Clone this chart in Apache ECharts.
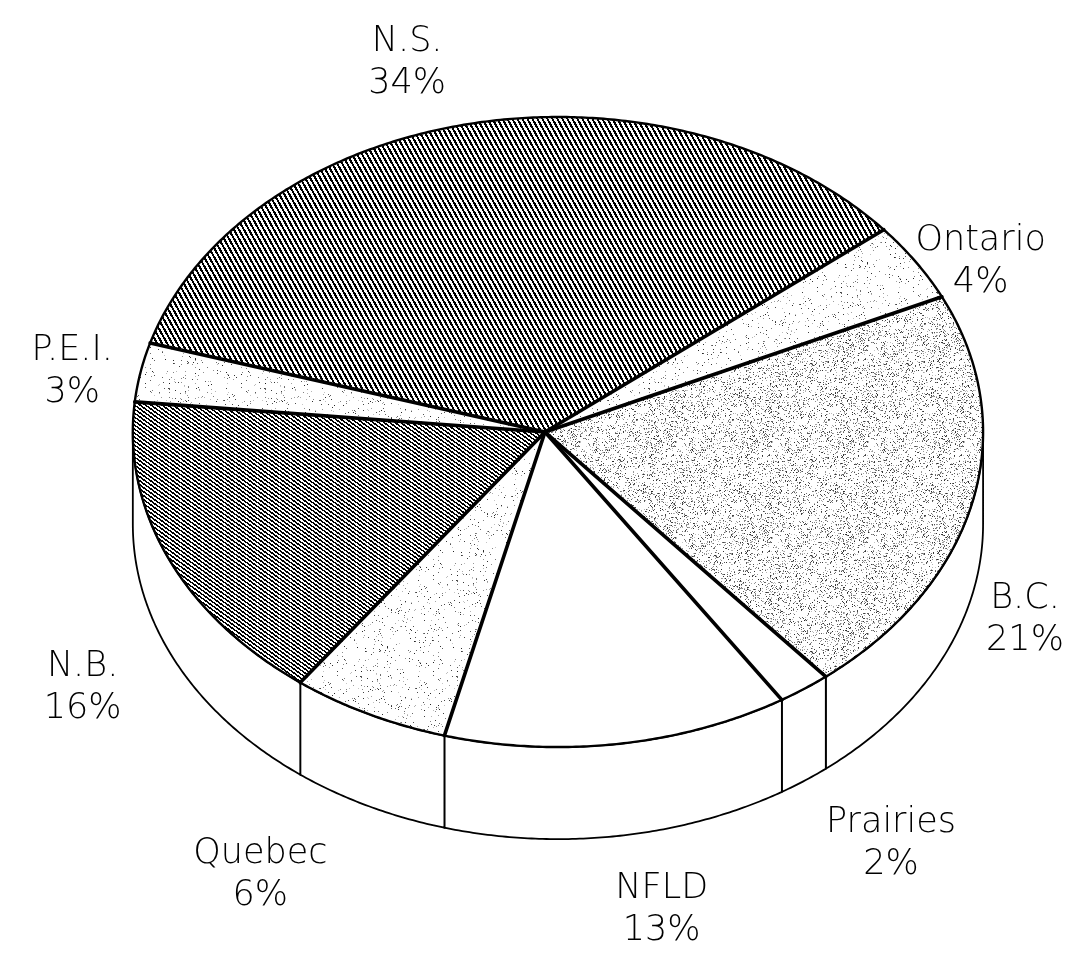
<!DOCTYPE html>
<html><head><meta charset="utf-8">
<script src="https://cdn.jsdelivr.net/npm/echarts@6/dist/echarts.min.js"></script>
<style>html,body{margin:0;padding:0;background:#fff}#chart{width:1079px;height:959px}</style>
</head><body><div id="chart"></div>
<script>
// ---- data ----
const categories = ['N.S.', 'Ontario', 'B.C.', 'Prairies', 'NFLD', 'Quebec', 'N.B.', 'P.E.I.'];
const shares = [34, 4, 21, 2, 13, 6, 16, 3];

// ---- textures ----
function hash(x, y, s) {
  let n = Math.imul(x, 374761393) + Math.imul(y, 668265263) + Math.imul(s, 2246822519);
  n = Math.imul(n ^ (n >>> 13), 1274126177);
  n = n ^ (n >>> 16);
  return (n >>> 0) / 4294967296;
}
function makePattern(w, h, fn) {
  const c = document.createElement('canvas');
  c.width = w; c.height = h;
  const ctx = c.getContext('2d');
  const img = ctx.createImageData(w, h);
  for (let y = 0; y < h; y++) for (let x = 0; x < w; x++) {
    const v = fn(x, y); const k = (y * w + x) * 4;
    img.data[k] = v; img.data[k + 1] = v; img.data[k + 2] = v; img.data[k + 3] = 255;
  }
  ctx.putImageData(img, 0, 0);
  return { image: c, repeat: 'repeat' };
}
const patterns = {
  hatchSteep: makePattern(5, 9, (x, y) => ((((x * 9 - y * 5) % 45) + 45) % 45) < 21 ? 0 : 255),
  hatchShallow: makePattern(11, 8, (x, y) => ((((x * 8 - y * 11) % 44) + 44) % 44) < 21 ? 0 : 255),
  speckleMedium: makePattern(96, 96, (x, y) => hash(x, y, 1) < 0.17 ? Math.round(40 + 160 * hash(x, y, 2)) : 255),
  speckleLight: makePattern(96, 96, (x, y) => hash(x, y, 3) < 0.04 ? Math.round(30 + 170 * hash(x, y, 4)) : 255)
};
const sliceFill = {
  'N.S.': patterns.hatchSteep,
  'Ontario': patterns.speckleLight,
  'B.C.': patterns.speckleMedium,
  'Prairies': '#ffffff',
  'NFLD': '#ffffff',
  'Quebec': patterns.speckleLight,
  'N.B.': patterns.hatchShallow,
  'P.E.I.': patterns.speckleLight
};

// ---- angles from data ----
const total = shares.reduce((a, b) => a + b, 0);
const startDeg = 196.4;
const starts = [], ends = [];
(function () { let acc = startDeg; shares.forEach(v => { starts.push(acc); acc += v / total * 360; ends.push(acc); }); })();

const LABEL_FONT = { size: 35, weight: 200, family: '"DejaVu Sans", sans-serif' };
const measureCtx = document.createElement('canvas').getContext('2d');
function blockWidth(lines) {
  measureCtx.font = LABEL_FONT.weight + ' ' + LABEL_FONT.size + 'px ' + LABEL_FONT.family;
  return Math.max.apply(null, lines.map(l => measureCtx.measureText(l).width));
}

function renderItem(params, api) {
  const i = params.dataIndex;
  const W = api.getWidth(), H = api.getHeight();
  const ax = W * 0.5051, ay = H * 0.4505;          // apex (pie centre on top face)
  const ex = ax + W * 0.012;                        // ellipse centre
  const rx = W * 0.394, ry = H * 0.3285, depth = H * 0.096;
  const pt = (deg, dy) => { const r = deg * Math.PI / 180; return [ex + rx * Math.cos(r), ay + ry * Math.sin(r) + (dy || 0)]; };
  const arc = (a, b, dy) => { const n = Math.max(2, Math.ceil(Math.abs(b - a) / 0.5)); const out = []; for (let k = 0; k <= n; k++) out.push(pt(a + (b - a) * k / n, dy)); return out; };
  const a0 = starts[i], a1 = ends[i];
  const children = [];
  for (let k = -1; k <= 1; k++) {
    const s = Math.max(a0, 360 * k), e = Math.min(a1, 360 * k + 180);
    if (e > s) {
      const top = arc(s, e, 0), bot = arc(e, s, depth);
      children.push({ type: 'polygon', z2: 0, shape: { points: top.concat(bot) }, style: { fill: '#fff', stroke: '#000', lineWidth: 1.8 } });
    }
  }
  const ap = arc(a0, a1, 0);
  children.push({ type: 'polygon', z2: 1, shape: { points: [[ax, ay]].concat(ap) }, style: { fill: sliceFill[categories[i]] } });
  children.push({ type: 'polyline', z2: 4, shape: { points: ap }, style: { fill: null, stroke: '#000', lineWidth: 2.4 } });
  const p0 = pt(a0, 0);
  children.push({ type: 'line', z2: 5, shape: { x1: ax, y1: ay, x2: p0[0], y2: p0[1] }, style: { stroke: '#000', lineWidth: 3.6, lineCap: 'round' } });
  // label: two centred lines, block placed outside the slice
  const lines = [categories[i], shares[i] + '%'];
  const bw = blockWidth(lines);
  const mid = (a0 + a1) / 2 * Math.PI / 180, c = Math.cos(mid), s = Math.sin(mid);
  let x, y, vAlign = 'middle';
  if (Math.abs(c) < 0.3) { x = ax + (rx + 250 + 150 * Math.max(s, 0)) * c; }
  else { const edge = ax + (rx + 15 + 55 * Math.max(s, 0)) * c; x = edge + (c > 0 ? 1 : -1) * bw / 2; }
  if (s < -0.6) { vAlign = 'bottom'; y = ay + (ry + 19) * s; }
  else if (s > 0) { y = ay + depth + 12 + (ry + 63) * s; }
  else { y = ay + ry * s; }
  children.push({ type: 'text', z2: 10, x: x, y: y, style: {
    text: lines.join('\n'), fill: '#000', fontSize: LABEL_FONT.size, fontWeight: LABEL_FONT.weight,
    fontFamily: LABEL_FONT.family, align: 'center', verticalAlign: vAlign, lineHeight: 42 } });
  return { type: 'group', children: children };
}

const chart = echarts.init(document.getElementById('chart'), null, { renderer: 'canvas' });
chart.setOption({
  backgroundColor: '#ffffff',
  animation: false,
  series: [{ type: 'custom', coordinateSystem: 'none', silent: true,
    data: shares.map((v, i) => [i, v]), renderItem: renderItem }]
});
</script></body></html>
